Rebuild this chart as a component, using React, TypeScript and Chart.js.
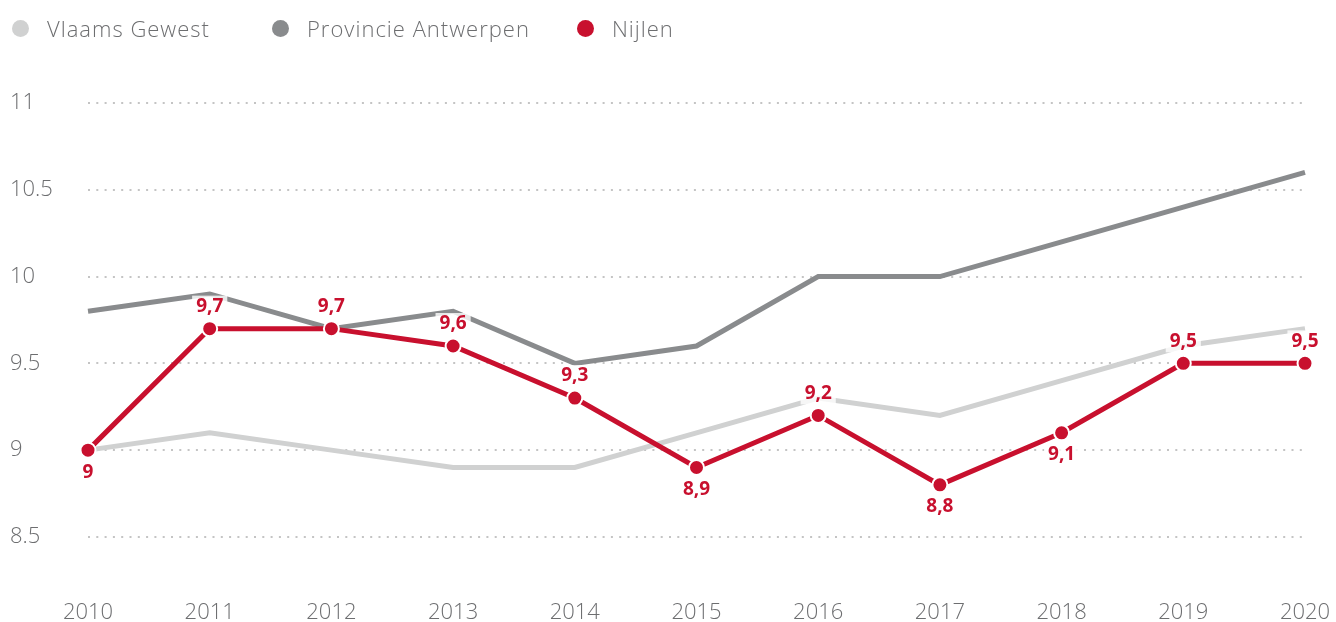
import React, { useEffect, useRef } from "react";
import { Chart, registerables } from "chart.js";

Chart.register(...registerables);

const years = ["2010", "2011", "2012", "2013", "2014", "2015", "2016", "2017", "2018", "2019", "2020"];
const vlaamsGewest = [9.0, 9.1, 9.0, 8.9, 8.9, 9.1, 9.3, 9.2, 9.4, 9.6, 9.7];
const provincieAntwerpen = [9.8, 9.9, 9.7, 9.8, 9.5, 9.6, 10.0, 10.0, 10.2, 10.4, 10.6];
const nijlen = [9.0, 9.7, 9.7, 9.6, 9.3, 8.9, 9.2, 8.8, 9.1, 9.5, 9.5];
const nijlenLabelPos = ["below", "above", "above", "above", "above", "below", "above", "below", "below", "above", "above"];
const yTicks = [8.5, 9, 9.5, 10, 10.5, 11];

const FONT = "'Open Sans', Lato, sans-serif";

const COLORS = {
  vlaams: "#d0d1d1",
  provincie: "#898b8d",
  nijlen: "#c8102e",
  text: "#6d6e70",
  grid: "#c4c4c4",
};

const legendItems = [
  { label: "Vlaams Gewest", color: COLORS.vlaams, left: 12 },
  { label: "Provincie Antwerpen", color: COLORS.provincie, left: 272 },
  { label: "Nijlen", color: COLORS.nijlen, left: 577 },
];

const labelPlugin = {
  id: "nijlenLabels",
  afterDatasetsDraw(chart: any) {
    const ctx = chart.ctx;
    const idx = chart.data.datasets.findIndex((d: any) => d.label === "Nijlen");
    const meta = chart.getDatasetMeta(idx);
    ctx.save();
    ctx.font = "bold 19px " + FONT;
    ctx.textAlign = "center";
    ctx.textBaseline = "middle";
    meta.data.forEach((pt: any, i: number) => {
      const txt = String(nijlen[i]).replace(".", ",");
      const y = nijlenLabelPos[i] === "above" ? pt.y - 22 : pt.y + 22;
      const w = ctx.measureText(txt).width;
      ctx.fillStyle = "rgba(255,255,255,0.8)";
      ctx.fillRect(pt.x - w / 2 - 4, y - 11, w + 8, 22);
      ctx.fillStyle = COLORS.nijlen;
      ctx.fillText(txt, pt.x, y);
    });
    ctx.restore();
  },
};

export default function App() {
  const ref = useRef<HTMLCanvasElement>(null);
  useEffect(() => {
    if (!ref.current) return;
    const chart = new Chart(ref.current, {
      type: "line",
      data: {
        labels: years,
        datasets: [
          {
            label: "Vlaams Gewest",
            data: vlaamsGewest,
            borderColor: COLORS.vlaams,
            backgroundColor: COLORS.vlaams,
            borderWidth: 5,
            pointRadius: 0,
            tension: 0,
            order: 3,
          },
          {
            label: "Provincie Antwerpen",
            data: provincieAntwerpen,
            borderColor: COLORS.provincie,
            backgroundColor: COLORS.provincie,
            borderWidth: 5,
            pointRadius: 0,
            tension: 0,
            order: 2,
          },
          {
            label: "Nijlen",
            data: nijlen,
            borderColor: COLORS.nijlen,
            backgroundColor: COLORS.nijlen,
            borderWidth: 5,
            pointRadius: 7.5,
            pointBorderWidth: 2,
            pointBorderColor: "#ffffff",
            pointBackgroundColor: COLORS.nijlen,
            tension: 0,
            order: 1,
          },
        ],
      },
      options: {
        animation: false,
        responsive: false,
        maintainAspectRatio: false,
        layout: { padding: { left: 10, right: 31, top: 103, bottom: 0 } },
        plugins: { legend: { display: false }, tooltip: { enabled: false } },
        scales: {
          x: {
            offset: false,
            afterFit(scale: any) {
              scale.paddingLeft = 0;
              scale.paddingRight = 0;
              scale.paddingTop = 0;
              scale.paddingBottom = 0;
              scale.height = 33;
            },
            grid: { display: false, drawTicks: false },
            border: { display: false },
            ticks: {
              color: COLORS.text,
              padding: 13,
              maxRotation: 0,
              autoSkip: false,
              font: { family: FONT, weight: 300, size: 22, lineHeight: 1 },
            },
          },
          y: {
            min: 8.2,
            max: 11,
            afterBuildTicks(scale: any) {
              scale.ticks = yTicks.map((v) => ({ value: v }));
            },
            afterFit(scale: any) {
              scale.width = 78;
              scale.paddingTop = 0;
              scale.paddingBottom = 0;
              scale.paddingLeft = 0;
              scale.paddingRight = 0;
            },
            grid: {
              color: COLORS.grid,
              lineWidth: 2,
              drawTicks: false,
            },
            border: { display: false, dash: [2, 6.3] },
            ticks: {
              color: COLORS.text,
              crossAlign: "far",
              padding: 0,
              font: { family: FONT, weight: 300, size: 22 },
              callback: (v: any) => String(v),
            },
          },
        },
      },
      plugins: [labelPlugin],
    } as any);
    return () => chart.destroy();
  }, []);

  return (
    <div style={{ position: "fixed", left: 0, top: 0, width: 1336, height: 622, background: "#fff" }}>
      <canvas ref={ref} width={1336} height={622} style={{ position: "absolute", left: 0, top: 0 }} />
      {legendItems.map((it) => (
        <div
          key={it.label}
          style={{
            position: "absolute",
            left: it.left,
            top: 13,
            height: 30,
            display: "flex",
            alignItems: "center",
            fontFamily: FONT,
            fontWeight: 300,
            fontSize: 22,
            letterSpacing: 1,
            color: COLORS.text,
            whiteSpace: "nowrap",
          }}
        >
          <span
            style={{
              display: "inline-block",
              width: 17,
              height: 17,
              borderRadius: "50%",
              background: it.color,
              marginRight: 18,
            }}
          />
          <span>{it.label}</span>
        </div>
      ))}
    </div>
  );
}
